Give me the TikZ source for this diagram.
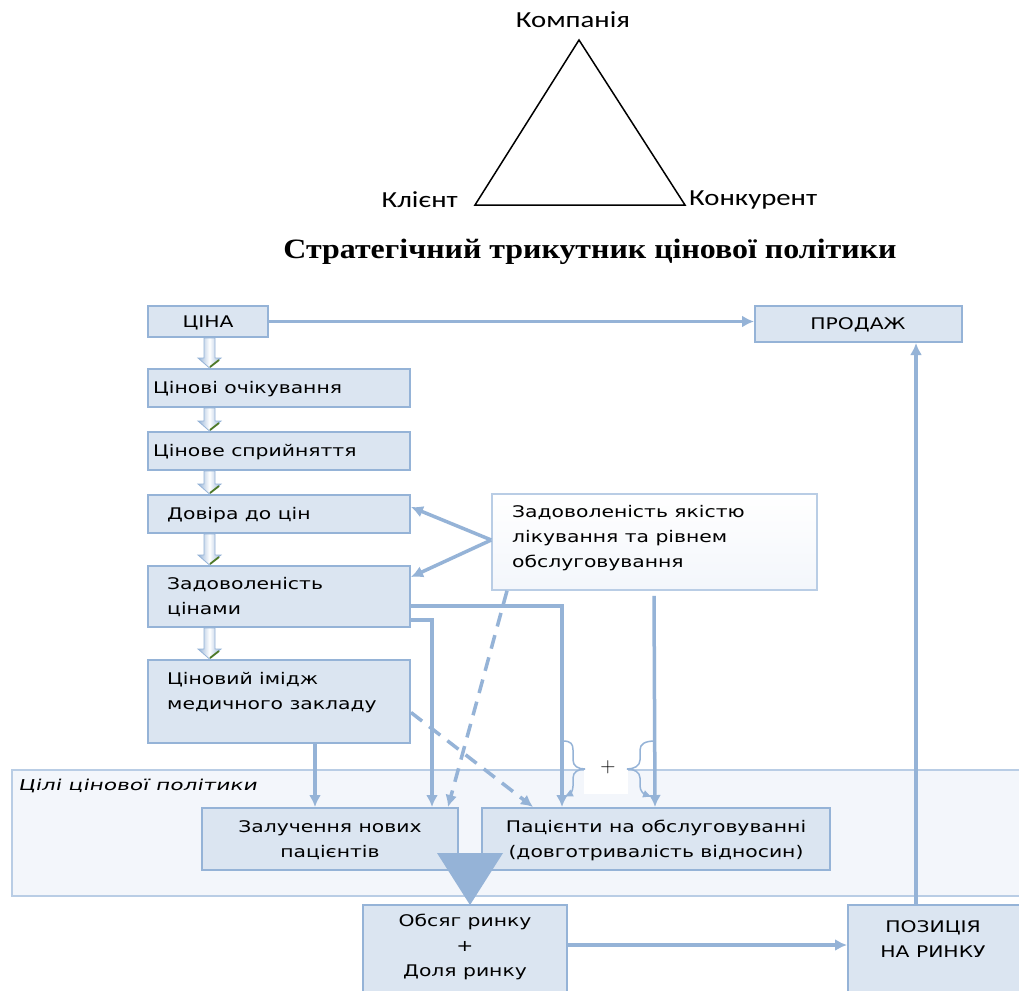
\documentclass[tikz,border=0pt]{standalone}
\usepackage{fontspec}
\usetikzlibrary{calc,arrows.meta}
\newfontfamily\bxf[FakeStretch=1.27]{DejaVu Sans}
\newfontfamily\bxi[FakeStretch=1.45,FakeSlant=0.2]{DejaVu Sans}
\newfontfamily\trif[FakeStretch=1.25]{Carlito}
\newfontfamily\ttlf[FakeStretch=1.14]{Liberation Serif}
\definecolor{bfill}{HTML}{DBE5F1}
\definecolor{bline}{HTML}{95B3D7}
\definecolor{cfill}{HTML}{F3F6FB}
\definecolor{cline}{HTML}{B9CDE5}
\definecolor{tipgreen}{HTML}{4F7A28}
\tikzset{
  bx/.style={draw=bline, fill=bfill, line width=2pt, rectangle, inner sep=0pt},
  btxt/.style={font={\bxf\fontsize{16}{25}\selectfont}, inner sep=0pt, align=left},
  ctxt/.style={font={\bxf\fontsize{16}{25}\selectfont}, inner sep=0pt, align=center},
  conn/.style={draw=bline, line width=3.5pt, -{Latex[length=12pt,width=12pt]}},
  dconn/.style={conn, dash pattern=on 14pt off 9pt},
  brc/.style={draw=bline, line width=1.5pt},
  tril/.style={font={\trif\fontsize{23}{26}\selectfont}, inner sep=0pt},
  blk/.style={draw=bline, line width=0.8pt, left color=bline, right color=bline, middle color=white},
}
\newcommand\blkarrow[2]{%
  \path[blk] let \p1=(#1.south west), \p2=(#2.north west) in
    (\x1+57pt,\y1) -- (\x1+68pt,\y1) -- (\x1+68pt,\y2+10pt) -- (\x1+74pt,\y2+10pt)
    -- (\x1+62.5pt,\y2) -- (\x1+51pt,\y2+10pt) -- (\x1+57pt,\y2+10pt) -- cycle;
  \draw[tipgreen, line width=1.8pt] let \p2=(#2.north west) in
    (\x2+63pt,\y2+1pt) -- (\x2+72pt,\y2+8pt);
}
\begin{document}
\begin{tikzpicture}[x=1pt,y=-1pt]
\useasboundingbox[fill=white] (0,0) rectangle (1019,990);

% strategic triangle
\coordinate (apex) at (579,40);
\coordinate (bl) at (475,205);
\coordinate (br) at (685,205);
\draw[line width=1.5pt, line join=miter] (apex) -- (bl) -- (br) -- cycle;
\node[tril] (komp) at (573,20) {Компанія};
\node[tril, anchor=east] (klient) at (458,200) {Клієнт};
\node[tril, anchor=west] (konk) at (689,200) {Конкурент};
\node[font={\ttlf\bfseries\fontsize{28}{32}\selectfont}, inner sep=0pt] (title) at (590,252)
  {Стратегічний трикутник цінової політики};

% container
\node[draw=cline, fill=cfill, line width=1.5pt, minimum width=1013pt, minimum height=126pt, inner sep=0pt]
  (cont) at (518.5,833) {};
\node[font={\bxi\fontsize{15}{18}\selectfont}, anchor=west, inner sep=0pt] (contl) at (18,786)
  {Цілі цінової політики};

% boxes
\node[bx, minimum width=120pt, minimum height=31pt] (cina) at (208,321.5) {};
\node[ctxt] (cinat) at (208,323) {ЦІНА};
\node[bx, minimum width=207pt, minimum height=36pt] (prod) at (858.5,324) {};
\node[ctxt] (prodt) at (858,325) {ПРОДАЖ};
\node[bx, minimum width=262pt, minimum height=38pt] (och) at (279,388) {};
\node[btxt, anchor=west] (ocht) at (153,389) {Цінові очікування};
\node[bx, minimum width=262pt, minimum height=38pt] (spr) at (279,451) {};
\node[btxt, anchor=west] (sprt) at (153,452) {Цінове сприйняття};
\node[bx, minimum width=262pt, minimum height=38pt] (dov) at (279,514) {};
\node[btxt, anchor=west] (dovt) at (167,515) {Довіра до цін};
\node[bx, minimum width=262pt, minimum height=61pt] (zad) at (279,596.5) {};
\node[btxt, anchor=west] (zadt) at (167,597) {Задоволеність\\цінами};
\node[bx, minimum width=262pt, minimum height=83pt] (img) at (279,701.5) {};
\node[btxt, anchor=west] (imgt) at (167,693) {Ціновий імідж\\медичного закладу};
\node[draw=cline, line width=1.5pt, top color=white, bottom color=cfill, minimum width=325pt, minimum height=96pt, inner sep=0pt]
  (sat) at (654.5,542) {};
\node[btxt, anchor=west] (satt) at (512,538) {Задоволеність якістю\\лікування та рівнем\\обслуговування};
\node[bx, minimum width=256pt, minimum height=62pt] (zal) at (330,839) {};
\node[ctxt] (zalt) at (330,840) {Залучення нових\\пацієнтів};
\node[bx, minimum width=348pt, minimum height=62pt] (pac) at (656,839) {};
\node[ctxt] (pact) at (656,840) {Пацієнти на обслуговуванні\\(довготривалість відносин)};
\node[bx, minimum width=204pt, minimum height=95pt] (obs) at (465,952.5) {};
\node[ctxt] (obst) at (465,947) {Обсяг ринку\\+\\Доля ринку};
\node[bx, minimum width=177pt, minimum height=95pt] (pos) at (936.5,952.5) {};
\node[ctxt] (post) at (933,939) {ПОЗИЦІЯ\\НА РИНКУ};

% block arrows in left column
\blkarrow{cina}{och}
\blkarrow{och}{spr}
\blkarrow{spr}{dov}
\blkarrow{dov}{zad}
\blkarrow{zad}{img}

% connectors
\draw[conn] (cina.east) -- (cina.east -| prod.west);
\draw[conn] ([xshift=-20.5pt]pos.north) -- ([xshift=-20.5pt]pos.north |- prod.south);
\draw[conn] ([yshift=7.5pt]obs.east) -- ([yshift=7.5pt]obs.east -| pos.west);
\draw[conn] ([yshift=2pt]sat.west) -- ([yshift=7pt]dov.east);
\draw[conn] ([yshift=2pt]sat.west) -- ([yshift=19.5pt]zad.east);
\draw[dconn] ([xshift=-147.5pt]sat.south) -- ([xshift=118pt]zal.north);
\draw[dconn] ([yshift=-11pt]img.east) -- ([xshift=-123pt]pac.north);
\draw[conn] ([yshift=-9.5pt]zad.east) -| ([xshift=-94pt]pac.north);
\draw[conn] ([yshift=-23.5pt]zad.east) -| ([xshift=102pt]zal.north);
\draw[conn] ([xshift=36pt]img.south) -- ([xshift=-15pt]zal.north);
\draw[conn] ([xshift=-0.5pt,yshift=-5pt]sat.south) -- ([xshift=-1pt]pac.north);

% braces and plus
\node[fill=white, minimum width=44pt, minimum height=25pt, inner sep=0pt] (plusbg) at (605.5,781.5) {};
\node[font=\fontsize{21}{24}\selectfont, inner sep=0pt] (plus) at (608,767) {+};
\draw[brc] (563,741) .. controls (571,741) and (573,744) .. (573,750) -- (573,760)
  .. controls (573,766) and (578,769) .. (585,769);
\draw[brc, -{Latex[length=9pt,width=8pt]}] (585,769) .. controls (578,769) and (573,772) .. (573,778)
  -- (573,786) .. controls (573,791) and (570,794) .. (564,797);
\draw[brc] (655,741) .. controls (645,741) and (640,744) .. (640,750) -- (640,760)
  .. controls (640,766) and (634,769) .. (627,769);
\draw[brc, -{Latex[length=9pt,width=8pt]}] (627,769) .. controls (634,769) and (640,772) .. (640,778)
  -- (640,786) .. controls (640,791) and (644,794) .. (652,797);

% big down triangle
\coordinate (tl) at (437,853);
\coordinate (tr) at (503,853);
\coordinate (tb) at (470,905);
\fill[bline] (tl) -- (tr) -- (tb) -- cycle;
\end{tikzpicture}
\end{document}
